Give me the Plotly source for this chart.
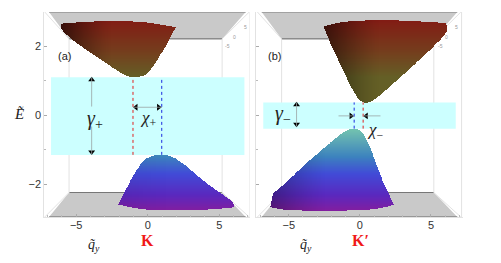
import numpy as np
import plotly.graph_objects as go

# ---- data (q_y, E) ----
e_ticks = [-2, 0, 2]
q_ticks = [-5, 0, 5]

upper_a_q = [-6.13,-6.06,-4.27,-2.17,-0.07,1.96,1.33,0.63,0.05,-0.42,-1.0,-1.59,-2.63,-4.27,-5.31]
upper_a_e = [2.52,2.65,2.71,2.73,2.70,2.55,2.04,1.56,1.22,1.12,1.10,1.15,1.43,1.89,2.20]
upper_a_corners = [1, 5]
lower_a_q = [-2.05,-1.0,-0.25,0.35,0.93,1.56,2.49,4.13,5.52,5.99,6.06,4.59,2.26,0.16,-1.0]
lower_a_e = [-2.57,-1.72,-1.28,-1.15,-1.12,-1.15,-1.39,-1.97,-2.36,-2.50,-2.65,-2.71,-2.75,-2.73,-2.67]
lower_a_corners = [0, 10]
upper_b_q = [-2.53,-1.41,0.47,2.81,6.09,6.14,5.85,3.98,2.11,0.94,0.35,-0.12,-0.7,-1.64,-2.22]
upper_b_e = [2.57,2.70,2.75,2.75,2.67,2.45,2.26,1.51,0.83,0.42,0.35,0.48,0.88,1.70,2.23]
upper_b_corners = [0, 4, 5]
lower_b_q = [-6.28,-6.09,-5.39,-3.51,-1.87,-0.94,-0.35,0.23,0.82,1.52,2.41,1.64,0,-2.58,-4.92]
lower_b_e = [-2.65,-2.24,-2.02,-1.29,-0.71,-0.42,-0.37,-0.47,-1.0,-1.83,-2.57,-2.67,-2.75,-2.77,-2.75]
lower_b_corners = [0, 1, 10]

gap_a = [-1.15, 1.10]
gap_b = [-0.39, 0.37]
band_a = [-6.76, 6.76]
band_b = [-6.79, 6.74]
min_q_a = [-1.03, 0.98]      # red then blue guide
min_q_b = [0.23, -0.40]

# colour ramps, by energy
upper_scale = [[0.0, "rgb(100,95,38)"], [0.4, "rgb(115,65,30)"], [1.0, "rgb(130,28,20)"]]
lower_scale = [[0.0, "rgb(130,30,160)"], [0.19, "rgb(90,40,190)"], [0.45, "rgb(65,75,215)"],
               [0.66, "rgb(60,130,190)"], [1.0, "rgb(115,195,175)"]]
upper_range = [1.1, 2.75]
lower_range = [-2.75, -0.4]
shade_scale = [[0, "rgba(0,0,0,0)"], [1, "rgba(0,0,0,1)"]]

GX = np.linspace(-7.3, 7.3, 440)
GY = np.linspace(-3.0, 3.0, 420)


def smooth(q, e, corners, n=3):
    pts = []
    for i, pt in enumerate(zip(q, e)):
        pts += [pt] * (4 if i in corners else 1)
    p = np.array(pts, float)
    for _ in range(n):
        r = np.roll(p, -1, axis=0)
        p = np.column_stack([0.75 * p + 0.25 * r, 0.25 * p + 0.75 * r]).reshape(-1, 2)
    return p[:, 0], p[:, 1]


def inside(q, e, X, Y):
    mask = np.zeros(X.shape, dtype=bool)
    n = len(q)
    for i in range(n):
        x1, y1, x2, y2 = q[i], e[i], q[(i + 1) % n], e[(i + 1) % n]
        if y1 == y2:
            continue
        cond = (y1 > Y) != (y2 > Y)
        xint = x1 + (Y - y1) * (x2 - x1) / (y2 - y1)
        mask ^= cond & (X < xint)
    return mask


def surface(q, e, corners, scale, zr, dark_left, xa, ya):
    sq, se = smooth(q, e, corners)
    X, Y = np.meshgrid(GX, GY)
    m = inside(sq, se, X, Y)
    z = np.where(m, Y, np.nan)
    lo, hi = min(q), max(q)
    s = np.clip((X - lo) / (hi - lo), 0, 1)
    shade = dark_left * np.clip(1 - s / 0.45, 0, 1) ** 1.3
    shade = np.where(m, shade, np.nan)
    base = go.Heatmap(x=GX, y=GY, z=z, colorscale=scale, zmin=zr[0], zmax=zr[1], showscale=False,
                      hoverinfo="skip", xaxis=xa, yaxis=ya)
    over = go.Heatmap(x=GX, y=GY, z=shade, colorscale=shade_scale, zmin=0, zmax=1, showscale=False,
                      hoverinfo="skip", xaxis=xa, yaxis=ya)
    return [base, over]


fig = go.Figure()
GREY = "#c9c9c9"
FRAME = "#e2e2e2"
shapes, annos = [], []
panels = [("x", "y"), ("x2", "y2")]


def poly(xr, yr, xs, ys, fill, line="rgba(0,0,0,0)", width=0, layer="below"):
    path = "M" + " L".join(f"{a},{b}" for a, b in zip(xs, ys)) + " Z"
    shapes.append(dict(type="path", path=path, xref=xr, yref=yr, fillcolor=fill,
                       line=dict(color=line, width=width), layer=layer))


def seg(xr, yr, x0, y0, x1, y1, color, width=1, dash="solid", layer="below"):
    shapes.append(dict(type="line", xref=xr, yref=yr, x0=x0, y0=y0, x1=x1, y1=y1,
                       line=dict(color=color, width=width, dash=dash), layer=layer))


def text(xr, yr, x, y, t, size, color="#222", family="Liberation Sans"):
    annos.append(dict(xref=xr, yref=yr, x=x, y=y, text=t, showarrow=False,
                      xanchor="center", yanchor="middle",
                      font=dict(size=size, color=color, family=family)))


for (xr, yr), band, gap, minq, in [
    (panels[0], band_a, gap_a, min_q_a),
    (panels[1], band_b, gap_b, min_q_b),
]:
    poly(xr, yr, [-6.9, 6.85, 5.2, -5.5], [2.99, 2.99, 2.21, 2.21], GREY)
    poly(xr, yr, [-6.9, 6.85, 5.2, -5.5], [-2.95, -2.95, -2.24, -2.24], GREY)
    seg(xr, yr, -6.9, 2.99, 6.85, 2.99, "#7d7d7d", 1.2)
    seg(xr, yr, -5.5, 2.21, 5.2, 2.21, "#555", 0.9)
    seg(xr, yr, -5.5, -2.24, 5.2, -2.24, "#777", 1)
    seg(xr, yr, -6.9, -2.95, 6.85, -2.95, "#666", 1.2)
    for a, b, c, d in [(-5.5, 2.21, -7.2, 2.99), (5.2, 2.21, 7.1, 2.99),
                       (-5.5, -2.24, -7.2, -2.95), (5.2, -2.24, 7.1, -2.95),
                       (-5.5, 2.21, -5.5, -2.24), (5.2, 2.21, 5.2, -2.24)]:
        seg(xr, yr, a, b, c, d, FRAME, 1)
    seg(xr, yr, 7.15, 2.99, 7.15, -2.95, FRAME, 1)
    shapes.append(dict(type="rect", xref=xr, yref=yr, x0=band[0], x1=band[1], y0=gap[0], y1=gap[1],
                       fillcolor="#ccffff", line=dict(width=0), layer="below"))
    seg(xr, yr, minq[0], gap[0], minq[0], gap[1], "#e02020", 1, "dot", "above")
    seg(xr, yr, minq[1], gap[0], minq[1], gap[1], "#1a2ae0", 1, "dot", "above")

fig.add_traces(surface(upper_a_q, upper_a_e, upper_a_corners, upper_scale, upper_range, 0.6, "x", "y"))
fig.add_traces(surface(lower_a_q, lower_a_e, lower_a_corners, lower_scale, lower_range, 0.05, "x", "y"))
fig.add_traces(surface(upper_b_q, upper_b_e, upper_b_corners, upper_scale, upper_range, 0.55, "x2", "y2"))
fig.add_traces(surface(lower_b_q, lower_b_e, lower_b_corners, lower_scale, lower_range, 0.3, "x2", "y2"))

ARROW = "#9aa5a5"
seg("x", "y", -3.92, 1.10, -3.92, 0.25, ARROW, 0.8, layer="above")
seg("x", "y", -3.92, -1.15, -3.92, -0.33, ARROW, 0.8, layer="above")
seg("x", "y", -1.03, 0.23, 0.98, 0.23, ARROW, 0.8, layer="above")
seg("x2", "y2", -4.45, 0.37, -4.45, -0.33, ARROW, 0.8, layer="above")
seg("x2", "y2", -1.5, -0.02, -0.40, -0.02, ARROW, 0.8, layer="above")
seg("x2", "y2", 0.23, -0.02, 1.45, -0.02, ARROW, 0.8, layer="above")

heads = [
    ("x", "y", [-3.92], [1.03], "triangle-up"),
    ("x", "y", [-3.92], [-1.07], "triangle-down"),
    ("x", "y", [-0.82], [0.23], "triangle-left"),
    ("x", "y", [0.76], [0.23], "triangle-right"),
    ("x2", "y2", [-4.45], [0.30], "triangle-up"),
    ("x2", "y2", [-4.45], [-0.26], "triangle-down"),
    ("x2", "y2", [-0.62], [-0.02], "triangle-right"),
    ("x2", "y2", [0.45], [-0.02], "triangle-left"),
]
for xa, ya, xs, ys, sym in heads:
    fig.add_trace(go.Scatter(x=xs, y=ys, mode="markers", xaxis=xa, yaxis=ya, hoverinfo="skip",
                             marker=dict(symbol=sym, size=6, color="#000"), showlegend=False))

W, H = 501, 263
SERIF = "Liberation Serif"
text("x", "y", -3.72, -0.12, "<i>γ</i><sub>+</sub>", 20, "#222", SERIF)
text("x", "y", 0.0, -0.1, "<i>χ</i><sub>+</sub>", 17, "#222", SERIF)
text("x2", "y2", -5.39, 0.03, "<i>γ</i><sub>−</sub>", 20, "#222", SERIF)
text("x2", "y2", 1.05, -0.47, "<i>χ</i><sub>−</sub>", 17, "#222", SERIF)
text("x", "y", -5.85, 1.72, "(a)", 11)
text("x2", "y2", -5.98, 1.72, "(b)", 11)
text("paper", "paper", 19 / W, 1 - 114 / H, "<i>E\u0303</i>", 15, "#222", SERIF)
text("paper", "paper", 94 / W, 1 - 245 / H, "<i>q\u0303</i><sub><i>y</i></sub>", 14, "#222", SERIF)
text("paper", "paper", 306 / W, 1 - 245 / H, "<i>q\u0303</i><sub><i>y</i></sub>", 14, "#222", SERIF)
text("paper", "paper", 147.7 / W, 1 - 240 / H, "<b>K</b>", 16, "#f01818", SERIF)
text("paper", "paper", 360 / W, 1 - 240 / H, "<b>K\u2032</b>", 16, "#f01818", SERIF)
for xr, yr, xs in [("x", "y", [6.82, 6.07, 5.58]), ("x2", "y2", [6.8, 6.1, 5.66])]:
    for x, e, t in zip(xs, [2.55, 2.27, 2.0], ["5", "0", "-5"]):
        text(xr, yr, x, e, t, 5, "#999")

axis_common = dict(showgrid=False, zeroline=False, showline=True, linecolor=FRAME, linewidth=1,
                   ticks="inside", ticklen=3, tickcolor="#aaaaaa", tickwidth=1,
                   tickfont=dict(family="Liberation Sans", size=11, color="#333"),
                   minor=dict(ticks="inside", ticklen=2, tickcolor="#bbbbbb", dtick=1))
fig.update_layout(
    width=W, height=H, margin=dict(l=0, r=0, t=0, b=0), paper_bgcolor="white", plot_bgcolor="white",
    showlegend=False, shapes=shapes, annotations=annos,
    xaxis=dict(domain=[44.3 / W, 250 / W], range=[-7.23, 7.15], tickvals=q_ticks, anchor="y", ticklabelstandoff=-2, **axis_common),
    yaxis=dict(domain=[46 / H, 251 / H], range=[-2.95, 2.99], tickvals=e_ticks, anchor="x", **axis_common),
    xaxis2=dict(domain=[256 / W, 463 / W], range=[-7.3, 7.25], tickvals=q_ticks, anchor="y2", ticklabelstandoff=-2, **axis_common),
    yaxis2=dict(domain=[46 / H, 251 / H], range=[-2.95, 2.99], tickvals=e_ticks, showticklabels=False, anchor="x2", **axis_common),
)
fig.write_html("out.html", config={"displayModeBar": False}, post_script="document.body.style.margin='0';")
